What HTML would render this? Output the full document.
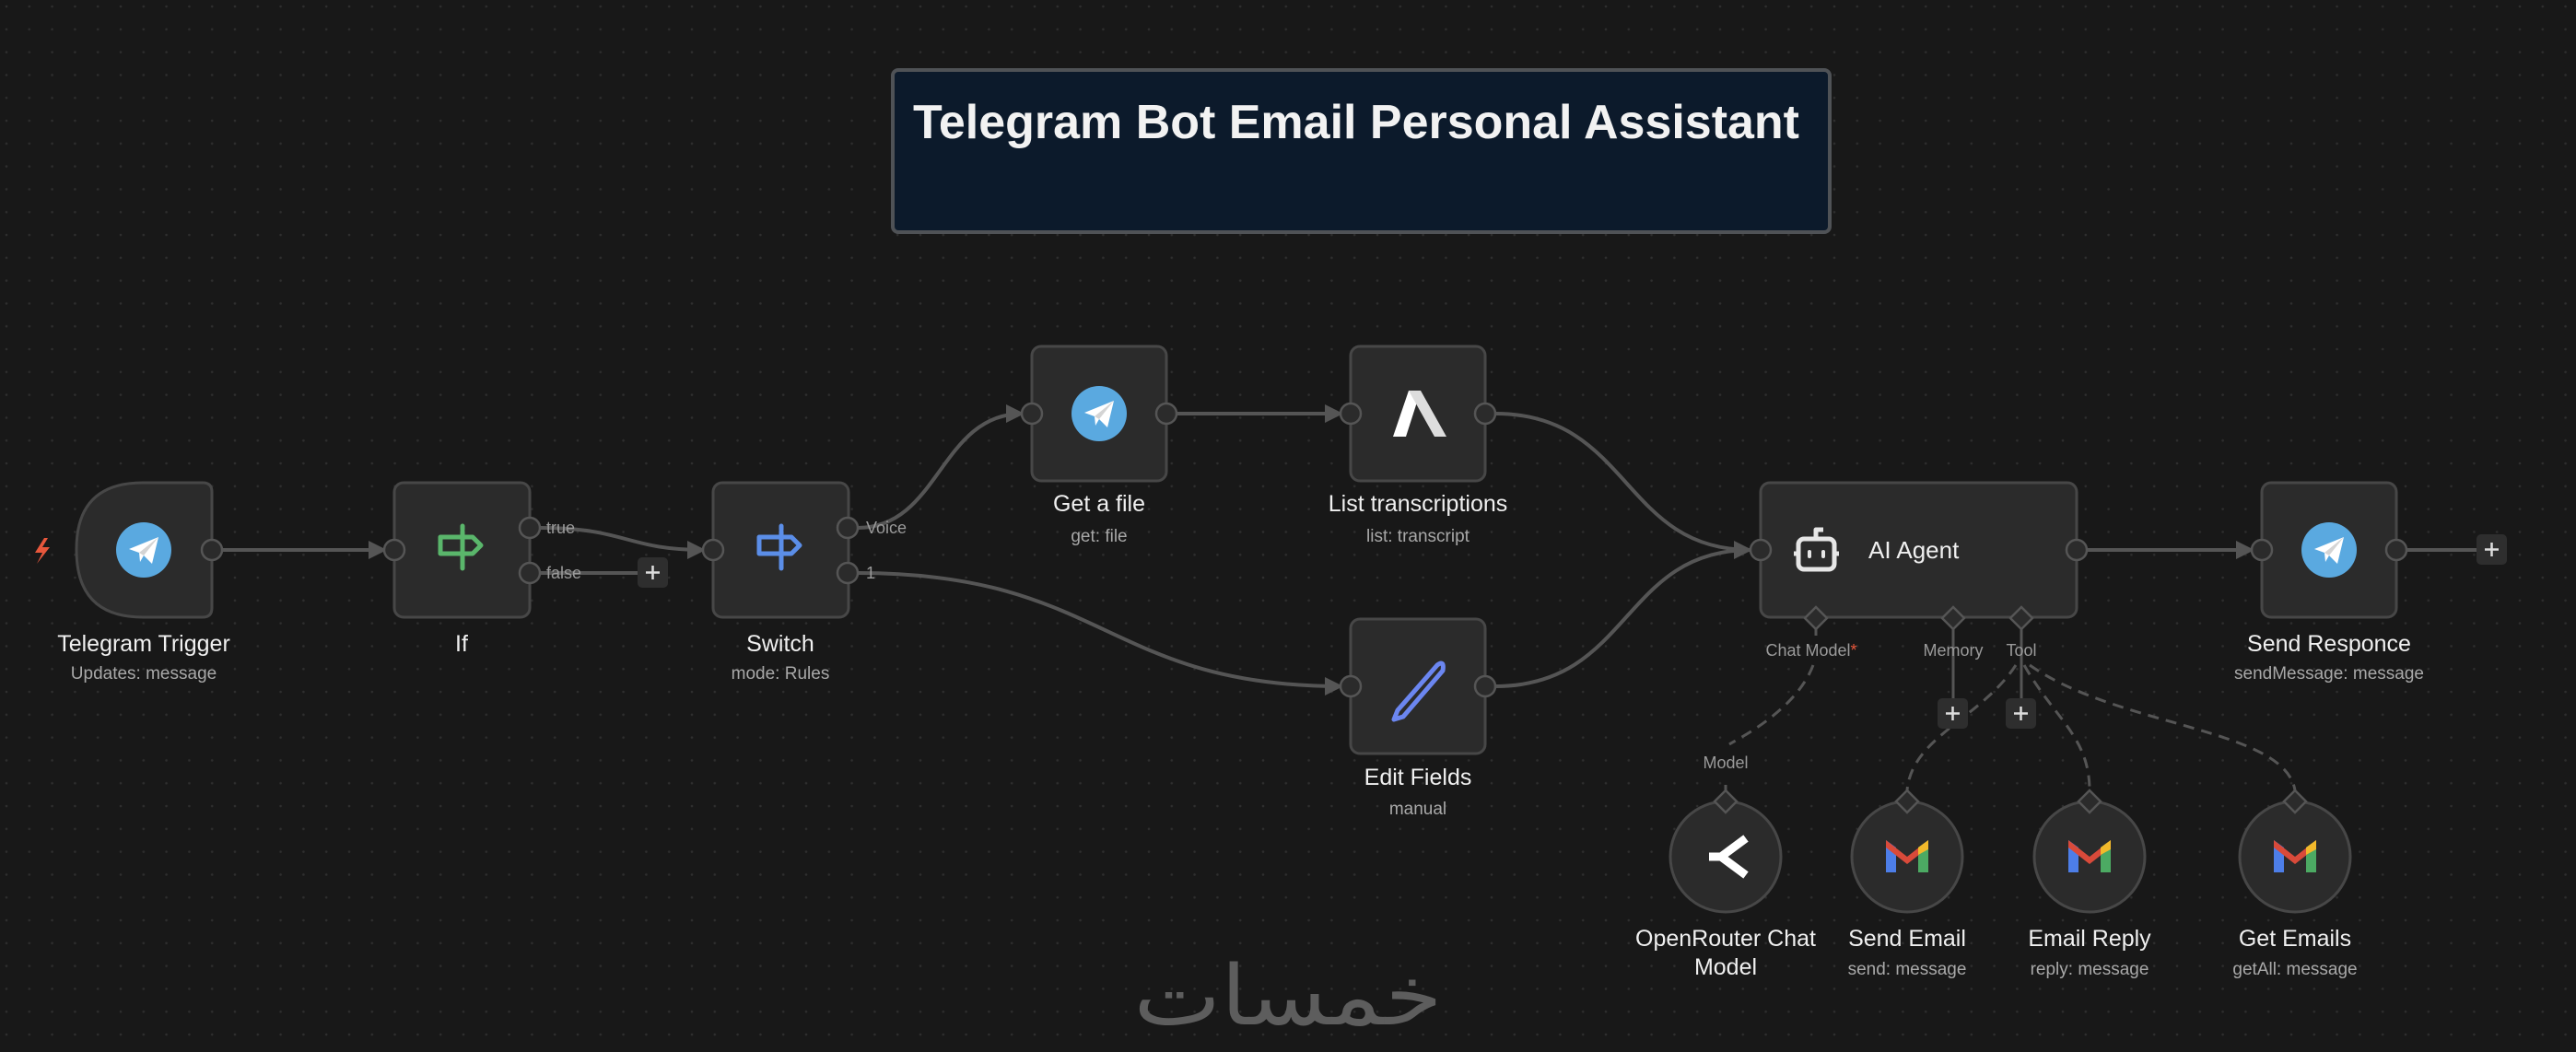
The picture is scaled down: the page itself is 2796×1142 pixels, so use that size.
<!DOCTYPE html>
<html><head><meta charset="utf-8"><style>
html,body{margin:0;padding:0;background:#181818;}
svg{display:block;}
text{font-family:"Liberation Sans","DejaVu Sans",sans-serif;}
</style></head><body>
<svg width="2796" height="1142" viewBox="0 0 2796 1142" xmlns="http://www.w3.org/2000/svg">
<defs>
<pattern id="dots" x="5" y="5" width="24.8" height="24.8" patternUnits="userSpaceOnUse">
<circle cx="2" cy="2" r="1.3" fill="#2e2e2e"/>
</pattern>
<marker id="arr" viewBox="0 0 10 10" refX="9" refY="5" markerWidth="5" markerHeight="5" orient="auto"><path d="M0,0 L10,5 L0,10z" fill="#555"/></marker>
</defs>
<rect width="2796" height="1142" fill="#181818"/>
<rect width="2796" height="1142" fill="url(#dots)"/>

<!-- Title sticky -->
<rect x="969" y="76" width="1017" height="176" rx="6" fill="#0c1a2b" stroke="#4f5256" stroke-width="4"/>
<text x="991" y="150" font-size="52" font-weight="bold" fill="#f2f2f2" textLength="962" lengthAdjust="spacingAndGlyphs">Telegram Bot Email Personal Assistant</text>

<!-- connections -->
<g fill="none" stroke="#555" stroke-width="4">
<path d="M241,597 L418,597" marker-end="url(#arr)"/>
<path d="M586,573 C680,573 680,597 764,597" marker-end="url(#arr)"/>
<path d="M586,622 L692,622"/>
<path d="M931,573 C1020,573 1020,449 1110,449" marker-end="url(#arr)"/>
<path d="M931,622 C1200,622 1200,745 1456,745" marker-end="url(#arr)"/>
<path d="M1277,449 L1456,449" marker-end="url(#arr)"/>
<path d="M1623,449 C1770,449 1760,597 1900,597" marker-end="url(#arr)"/>
<path d="M1623,745 C1770,745 1760,597 1900,597"/>
<path d="M2265,597 L2445,597" marker-end="url(#arr)"/>
<path d="M2612,597 L2688,597"/>
</g>
<g fill="none" stroke="#555" stroke-width="3">
<path d="M1971,683 L1971,690"/>
<path d="M2120,683 L2120,758"/>
<path d="M2194,683 L2194,758"/>
<path d="M1873,852 L1873,858"/>
</g>
<g fill="none" stroke="#555" stroke-width="3" stroke-dasharray="12,8">
<path d="M1968,722 C1950,770 1890,800 1877,808"/>
<path d="M2188,722 C2150,780 2075,800 2070,858"/>
<path d="M2197,722 C2230,780 2268,800 2268,858"/>
<path d="M2203,722 C2300,790 2480,790 2491,858"/>
</g>

<!-- port labels -->
<g font-size="18" fill="#9a9a9a">
<text x="593" y="579">true</text>
<text x="593" y="628">false</text>
<text x="940" y="579">Voice</text>
<text x="940" y="628">1</text>
</g>

<!-- trigger bolt -->
<path d="M48,584 L38,600 L46,600 L40,612 L54,594 L46,594 L52,584z" fill="#e8573c"/>

<!-- Nodes -->
<g fill="#2b2b2b" stroke="#474747" stroke-width="3">
<path d="M155,524 L220,524 Q230,524 230,534 L230,660 Q230,670 220,670 L155,670 Q83,670 83,597 L83,596 Q83,524 155,524z"/>
<rect x="428" y="524" width="147" height="146" rx="10"/>
<rect x="774" y="524" width="147" height="146" rx="10"/>
<rect x="1120" y="376" width="146" height="146" rx="10"/>
<rect x="1466" y="376" width="146" height="146" rx="10"/>
<rect x="1466" y="672" width="146" height="146" rx="10"/>
<rect x="1911" y="524" width="343" height="146" rx="10"/>
<rect x="2455" y="524" width="146" height="146" rx="10"/>
<circle cx="1873" cy="930" r="60"/>
<circle cx="2070" cy="930" r="60"/>
<circle cx="2268" cy="930" r="60"/>
<circle cx="2491" cy="930" r="60"/>
</g>

<!-- ports -->
<g fill="#2b2b2b" stroke="#555" stroke-width="2.5">
<circle cx="230" cy="597" r="11"/>
<circle cx="428" cy="597" r="11"/>
<circle cx="575" cy="573" r="11"/>
<circle cx="575" cy="622" r="11"/>
<circle cx="774" cy="597" r="11"/>
<circle cx="920" cy="573" r="11"/>
<circle cx="920" cy="622" r="11"/>
<circle cx="1120" cy="449" r="11"/>
<circle cx="1266" cy="449" r="11"/>
<circle cx="1466" cy="449" r="11"/>
<circle cx="1612" cy="449" r="11"/>
<circle cx="1466" cy="745" r="11"/>
<circle cx="1612" cy="745" r="11"/>
<circle cx="1911" cy="597" r="11"/>
<circle cx="2254" cy="597" r="11"/>
<circle cx="2455" cy="597" r="11"/>
<circle cx="2601" cy="597" r="11"/>
<path d="M1971,659 L1983,671 L1971,683 L1959,671z"/>
<path d="M2120,659 L2132,671 L2120,683 L2108,671z"/>
<path d="M2194,659 L2206,671 L2194,683 L2182,671z"/>
<path d="M1873,858 L1885,870 L1873,882 L1861,870z"/>
<path d="M2070,858 L2082,870 L2070,882 L2058,870z"/>
<path d="M2268,858 L2280,870 L2268,882 L2256,870z"/>
<path d="M2491,858 L2503,870 L2491,882 L2479,870z"/>
</g>

<!-- plus boxes -->
<g>
<rect x="692" y="605" width="33" height="33" rx="5" fill="#2e2e2e"/>
<rect x="2103" y="758" width="33" height="33" rx="5" fill="#2e2e2e"/>
<rect x="2177" y="758" width="33" height="33" rx="5" fill="#2e2e2e"/>
<rect x="2688" y="580" width="33" height="33" rx="5" fill="#2e2e2e"/>
<g stroke="#ddd" stroke-width="2.5">
<path d="M708.5,614 v15 M701,621.5 h15"/>
<path d="M2119.5,767 v15 M2112,774.5 h15"/>
<path d="M2193.5,767 v15 M2186,774.5 h15"/>
<path d="M2704.5,589 v15 M2697,596.5 h15"/>
</g>
</g>

<!-- Telegram icons -->
<g id="tg">
<circle cx="156" cy="597" r="30" fill="#5aa9e0"/>
<path d="M140,596 L172,583 L165,612 L156,603 L152,610 L151,600z" fill="#fff"/>
<path d="M151,600 L172,583 L156,603z" fill="#d4d4d4"/>
</g>
<use href="#tg" x="1037" y="-148"/>
<use href="#tg" x="2372" y="0"/>

<!-- If / Switch sign icons -->
<g fill="none" stroke-width="5" stroke-linejoin="round" stroke-linecap="round">
<g stroke="#5ab66b"><path d="M502,577 v40 M502,575 v-4"/><path d="M478,583 h35 l9,9 -9,9 h-35z"/></g>
<g stroke="#5b8ee8"><path d="M848,577 v40 M848,575 v-4"/><path d="M824,583 h35 l9,9 -9,9 h-35z"/></g>
</g>

<!-- List transcriptions icon -->
<path d="M1512,474 L1529,424 L1542,424 L1526,474z" fill="#fff"/>
<path d="M1529,424 L1542,424 L1570,474 L1557,474z" fill="#ddd"/>

<!-- Edit fields pencil -->
<path d="M1517,771 L1560,722 Q1568,716 1566,728 L1523,778 L1513,781z" fill="none" stroke="#6b86f0" stroke-width="5" stroke-linejoin="round"/>

<!-- AI Agent robot -->
<g fill="none" stroke="#e6e6e6" stroke-width="5" stroke-linejoin="round">
<rect x="1952" y="585" width="39" height="33" rx="6"/>
<path d="M1971,585 v-10 h8"/>
<path d="M1947,601 h4 M1992,601 h4"/>
</g>
<rect x="1962" y="597" width="4" height="9" rx="2" fill="#e6e6e6"/>
<rect x="1977" y="597" width="4" height="9" rx="2" fill="#e6e6e6"/>
<text x="2028" y="606" font-size="26" fill="#f0f0f0">AI Agent</text>

<!-- OpenRouter icon -->
<path d="M1895,910 L1868,930 L1895,950" fill="none" stroke="#fff" stroke-width="9" stroke-linejoin="round"/>
<path d="M1855,930 h16" stroke="#fff" stroke-width="9"/>

<!-- Gmail icons -->
<g id="gm">
<path d="M2047,947 V912 L2058,920 V947z" fill="#4d7ee8"/>
<path d="M2082,947 V920 L2093,912 V947z" fill="#4caa63"/>
<path d="M2047,912 L2070,930 L2093,912 L2093,920 L2070,938 L2047,920z" fill="#d94a3a"/>
<path d="M2082,920 L2093,912 L2093,922 L2082,928z" fill="#f2b92b"/>
</g>
<use href="#gm" x="198" y="0"/>
<use href="#gm" x="421" y="0"/>

<!-- labels -->
<g font-size="25" fill="#f0f0f0" text-anchor="middle">
<text x="156" y="707">Telegram Trigger</text>
<text x="501" y="707">If</text>
<text x="847" y="707">Switch</text>
<text x="1193" y="555">Get a file</text>
<text x="1539" y="555">List transcriptions</text>
<text x="1539" y="852">Edit Fields</text>
<text x="2528" y="707">Send Responce</text>
<text x="1873" y="1027">OpenRouter Chat</text>
<text x="1873" y="1058">Model</text>
<text x="2070" y="1027">Send Email</text>
<text x="2268" y="1027">Email Reply</text>
<text x="2491" y="1027">Get Emails</text>
</g>
<g font-size="19" fill="#a8a8a8" text-anchor="middle">
<text x="156" y="737">Updates: message</text>
<text x="847" y="737">mode: Rules</text>
<text x="1193" y="588">get: file</text>
<text x="1539" y="588">list: transcript</text>
<text x="1539" y="884">manual</text>
<text x="2528" y="737">sendMessage: message</text>
<text x="2070" y="1058">send: message</text>
<text x="2268" y="1058">reply: message</text>
<text x="2491" y="1058">getAll: message</text>
</g>
<g font-size="18" fill="#9a9a9a" text-anchor="middle">
<text x="1966" y="712">Chat Model<tspan fill="#e8573c">*</tspan></text>
<text x="2120" y="712">Memory</text>
<text x="2194" y="712">Tool</text>
<text x="1873" y="834">Model</text>
</g>

<!-- watermark -->
<text x="1398" y="1112" font-size="90" fill="#5d5d5d" text-anchor="middle" font-family="'DejaVu Sans',sans-serif" textLength="335" lengthAdjust="spacingAndGlyphs">خمسات</text>
</svg>
</body></html>
